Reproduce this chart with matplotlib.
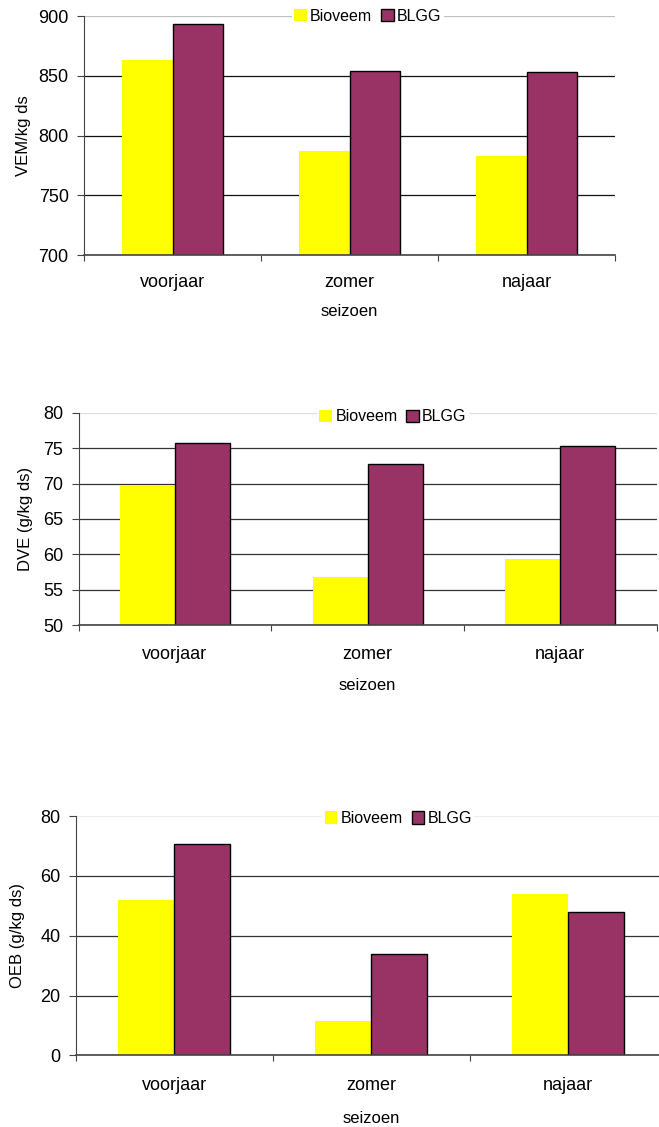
import numpy as np
import matplotlib
matplotlib.use("Agg")
import matplotlib.pyplot as plt

plt.rcParams['font.family'] = ['Liberation Sans', 'DejaVu Sans']

# data
seasons = ["voorjaar", "zomer", "najaar"]
series = ["Bioveem", "BLGG"]

vem_bioveem = [863, 787, 783]
vem_blgg = [893.5, 854, 853]

dve_bioveem = [69.8, 56.8, 59.4]
dve_blgg = [75.7, 72.7, 75.3]

oeb_bioveem = [52, 11.4, 53.8]
oeb_blgg = [70.7, 34, 48]

yellow = "#FFFF00"
plum = "#993366"

fig = plt.figure(figsize=(6.59, 11.27), dpi=100)


def bar_panel(rect, bio, blgg, ylabel, ylim, yticks, leg_x, leg_y,
              lab_x, tick_pad, xlab_pad, top_color, grid_color):
    ax = fig.add_axes(rect)
    w = 1 / 3.5  # excel gap width 150
    x = np.arange(len(seasons)) + 0.5
    ax.bar(x - w / 2, bio, w, color=yellow, edgecolor="none",
           label=series[0], zorder=2)
    ax.bar(x + w / 2, blgg, w, color=plum, edgecolor="black",
           linewidth=1, label=series[1], zorder=2)
    ax.set_xlim(0, 3)
    ax.set_ylim(*ylim)
    ax.set_yticks(yticks)
    ax.yaxis.grid(True, color=grid_color, linewidth=0.9)
    ax.set_axisbelow(True)
    ax.get_ygridlines()[-1].set_color(top_color)
    for s in ["top", "right"]:
        ax.spines[s].set_visible(False)
    ax.spines["left"].set_color("#444444")
    ax.spines["bottom"].set_color("#444444")
    ax.spines["bottom"].set_linewidth(1.2)
    ax.tick_params(axis="y", length=5, color="#444444", labelsize=13, pad=6)
    # category boundaries as ticks, names in between
    ax.set_xticks([0, 1, 2, 3])
    ax.set_xticklabels([])
    ax.tick_params(axis="x", which="major", length=4, color="#444444")
    ax.set_xticks(x, minor=True)
    ax.set_xticklabels(seasons, minor=True)
    ax.tick_params(axis="x", which="minor", length=0, labelsize=13,
                   pad=tick_pad)
    ax.set_xlabel("seizoen", fontsize=12, labelpad=xlab_pad)
    ax.set_ylabel(ylabel, fontsize=12)
    ax.yaxis.set_label_coords(lab_x, 0.5)
    leg = ax.legend(loc="center", bbox_to_anchor=(leg_x, leg_y), ncol=2,
                    fontsize=11.5, frameon=True, fancybox=False,
                    edgecolor="none", facecolor="white", framealpha=1,
                    handlelength=0.8, handleheight=0.8, handletextpad=0.2,
                    columnspacing=0.55, borderpad=0.15, borderaxespad=0)
    leg.set_zorder(5)
    return ax


bar_panel([0.1275, 0.7737, 0.806, 0.2121], vem_bioveem, vem_blgg,
          "VEM/kg ds", (700, 900), [700, 750, 800, 850, 900],
          0.534, 1.0, -0.100, 14, 9, "#c0c0c0", "#111111")

bar_panel([0.1193, 0.4452, 0.877, 0.1886], dve_bioveem, dve_blgg,
          "DVE (g/kg ds)", (50, 80), [50, 55, 60, 65, 70, 75, 80],
          0.544, 0.981, -0.079, 15, 11, "#dddddd", "#333333")

bar_panel([0.1147, 0.0636, 0.897, 0.2123], oeb_bioveem, oeb_blgg,
          "OEB (g/kg ds)", (0, 80), [0, 20, 40, 60, 80],
          0.546, 0.99, -0.0856, 15.5, 12, "#eeeeee", "#333333")

fig.savefig("out.png", dpi=100)
